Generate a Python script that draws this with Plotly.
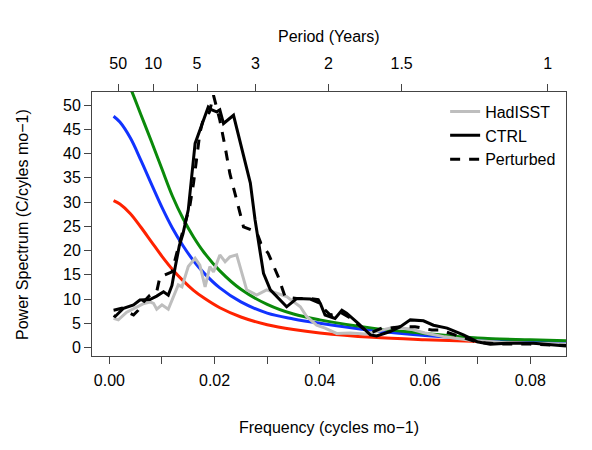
import plotly.graph_objects as go

# ---- smooth red-noise fits ----
freq_smooth = [0.0008, 0.002, 0.004, 0.006, 0.008, 0.010, 0.012, 0.014, 0.016, 0.018,
               0.021, 0.025, 0.030, 0.035, 0.040, 0.050, 0.060, 0.070, 0.080, 0.0868]
red_fit = [30.3, 29.6, 27.6, 24.8, 21.8, 18.8, 16.1, 13.8, 11.8, 10.2,
           8.2, 6.3, 4.7, 3.7, 3.0, 2.1, 1.6, 1.25, 1.0, 0.87]
blue_fit = [47.7, 46.5, 43.2, 38.6, 33.7, 28.9, 24.6, 21.0, 17.9, 15.35,
            12.3, 9.4, 7.1, 5.9, 5.0, 3.5, 2.5, 1.85, 1.4, 1.2]
green_fit = [59.5, 58.0, 53.5, 48.0, 42.5, 36.8, 31.2, 26.6, 22.8, 19.6,
             15.8, 12.0, 8.9, 6.9, 5.7, 4.0, 2.9, 1.95, 1.6, 1.4]

# ---- HadISST ----
freq_had = [0.0008, 0.0017, 0.0033, 0.0049, 0.0064, 0.0077, 0.0084, 0.0090, 0.0100, 0.0112,
            0.0119, 0.0131, 0.0138, 0.0150, 0.0163, 0.0172, 0.0182, 0.0191, 0.0198, 0.0210,
            0.0220, 0.0229, 0.0242, 0.0252, 0.0261, 0.0280, 0.0299, 0.0318, 0.0337, 0.0363,
            0.0375, 0.0394, 0.0410, 0.0432, 0.0458, 0.0486, 0.0508, 0.0540, 0.0572, 0.0600,
            0.0638, 0.0686, 0.0743, 0.0800, 0.0868]
had = [6.0, 5.7, 7.3, 8.1, 9.0, 9.4, 9.1, 7.9, 8.8, 7.9,
       9.8, 12.9, 12.5, 16.7, 18.4, 17.0, 12.5, 16.7, 15.6, 19.1,
       17.7, 18.7, 19.1, 15.3, 11.9, 10.8, 11.9, 11.2, 10.5, 8.4,
       6.4, 4.6, 4.0, 2.9, 3.0, 2.8, 3.3, 4.2, 3.8, 3.0,
       2.2, 1.5, 1.1, 0.9, 0.7]

# ---- CTRL ----
freq_ctrl = [0.0008, 0.0011, 0.0027, 0.0046, 0.0058, 0.0077, 0.0090, 0.0103, 0.0112, 0.0119,
             0.0125, 0.0133, 0.0140, 0.0150, 0.0163, 0.0176, 0.0188, 0.0195, 0.0204, 0.0210,
             0.0217, 0.0236, 0.0252, 0.0268, 0.0277, 0.0283, 0.0293, 0.0306, 0.0337, 0.0356,
             0.0382, 0.0401, 0.0410, 0.0429, 0.0442, 0.0451, 0.0473, 0.0496, 0.0508, 0.0534,
             0.0553, 0.0572, 0.0597, 0.0616, 0.0642, 0.0673, 0.0699, 0.0724, 0.0756, 0.0806,
             0.0844, 0.0868]
ctrl = [6.6, 6.4, 8.1, 8.8, 9.8, 9.9, 10.6, 11.5, 10.8, 12.8,
        16.5, 21.0, 23.5, 28.4, 42.1, 46.2, 49.6, 49.0, 48.6, 49.0,
        46.2, 47.9, 40.7, 33.9, 26.3, 22.2, 15.3, 11.9, 8.4, 10.1,
        10.0, 9.1, 6.7, 6.0, 7.7, 7.1, 5.0, 2.6, 2.4, 3.3,
        4.3, 5.7, 5.5, 4.6, 4.0, 2.6, 1.2, 0.7, 0.9, 0.9,
        0.5, 0.3]

# ---- Perturbed ----
freq_pert = [0.0008, 0.0024, 0.0034, 0.0046, 0.0055, 0.0065, 0.0077, 0.0090, 0.0096, 0.0119,
             0.0128, 0.0138, 0.0153, 0.0160, 0.0166, 0.0172, 0.0178, 0.0190, 0.0198, 0.0210,
             0.0220, 0.0229, 0.0242, 0.0255, 0.0271, 0.0280, 0.0288, 0.0302, 0.0321, 0.0334,
             0.0356, 0.0382, 0.0397, 0.0404, 0.0420, 0.0439, 0.0458, 0.0481, 0.0496, 0.0518,
             0.0531, 0.0553, 0.0581, 0.0613, 0.0629, 0.0667, 0.0699, 0.0743, 0.0800, 0.0868]
pert = [7.7, 8.1, 7.3, 6.7, 7.7, 9.4, 10.8, 11.5, 14.5, 15.6,
        19.4, 23.5, 29.2, 33.9, 39.3, 44.2, 46.9, 48.5, 52.0, 46.9,
        41.4, 35.9, 30.4, 24.9, 24.2, 23.8, 21.5, 19.4, 14.6, 10.5,
        10.1, 10.1, 9.9, 8.4, 6.7, 7.3, 6.1, 4.0, 3.0, 4.0,
        4.0, 4.3, 4.3, 3.6, 3.6, 2.2, 1.1, 0.7, 0.7, 0.4]

# ---- axes ----
freq_ticks = [0.00, 0.01, 0.02, 0.03, 0.04, 0.05, 0.06, 0.07, 0.08]
freq_labels = ["0.00", "", "0.02", "", "0.04", "", "0.06", "", "0.08"]
period_ticks = [50, 10, 5, 3, 2, 1.5, 1]
period_labels = ["50", "10", "5", "3", "2", "1.5", "1"]
y_ticks = [0, 5, 10, 15, 20, 25, 30, 35, 40, 45, 50]

FONT = "Liberation Sans, Arial, Helvetica, sans-serif"
AXCOL = "#444444"
xr = [-0.0033, 0.0868]
yr = [-1.75, 52.7]

fig = go.Figure()
for vals, col in [(red_fit, "#FF2200"), (blue_fit, "#1133FF"), (green_fit, "#0A8A0A")]:
    fig.add_trace(go.Scatter(x=freq_smooth, y=vals, mode="lines",
                             line=dict(color=col, width=3, shape="spline"),
                             showlegend=False, hoverinfo="skip"))
fig.add_trace(go.Scatter(x=freq_had, y=had, mode="lines", name="HadISST",
                         line=dict(color="#BEBEBE", width=3)))
fig.add_trace(go.Scatter(x=freq_ctrl, y=ctrl, mode="lines", name="CTRL",
                         line=dict(color="black", width=3)))
fig.add_trace(go.Scatter(x=freq_pert, y=pert, mode="lines", name="Perturbed",
                         line=dict(color="black", width=3, dash="10px,9px")))
# top axis carrier
fig.add_trace(go.Scatter(x=[xr[0], xr[1]], y=[None, None], xaxis="x2", mode="lines",
                         showlegend=False, hoverinfo="skip"))

# page body has an 8px margin: figure is sized/offset to compensate
fig.update_layout(
    width=584, height=442,
    margin=dict(l=84, r=26, t=84, b=94),
    paper_bgcolor="white", plot_bgcolor="white",
    font=dict(family=FONT, size=16, color="black"),
    xaxis=dict(range=xr, tickvals=freq_ticks, ticktext=freq_labels,
               ticks="outside", ticklen=7, tickcolor=AXCOL, tickwidth=1,
               ticklabelstandoff=3,
               showline=True, linecolor=AXCOL, linewidth=1, mirror=True,
               showgrid=False, zeroline=False),
    xaxis2=dict(range=xr, overlaying="x", side="top",
                tickvals=[1 / (12 * p) for p in period_ticks], ticktext=period_labels,
                ticks="outside", ticklen=7, tickcolor=AXCOL, tickwidth=1,
                ticklabelstandoff=9,
                showline=True, linecolor=AXCOL, linewidth=1,
                showgrid=False, zeroline=False),
    yaxis=dict(range=yr, tickvals=y_ticks, ticks="outside", ticklen=7,
               tickcolor=AXCOL, tickwidth=1, showline=True, linecolor=AXCOL,
               linewidth=1, mirror=True, showgrid=False, zeroline=False),
    legend=dict(x=0.745, y=0.99, xanchor="left", yanchor="top",
                bgcolor="rgba(0,0,0,0)", font=dict(size=16), tracegroupgap=0),
    annotations=[
        dict(text="Frequency (cycles mo\u22121)", xref="paper", yref="paper",
             x=0.5, y=-0.2727, xanchor="center", yanchor="middle", showarrow=False,
             font=dict(size=16)),
        dict(text="Period (Years)", xref="paper", yref="paper",
             x=0.5, y=1.212, xanchor="center", yanchor="middle", showarrow=False,
             font=dict(size=16)),
        dict(text="Power Spectrum (C/cyles mo\u22121)", xref="paper", yref="paper",
             x=-0.1477, y=0.5, xanchor="center", yanchor="middle", showarrow=False,
             textangle=-90, font=dict(size=16)),
    ],
)

fig.write_html("out.html")
